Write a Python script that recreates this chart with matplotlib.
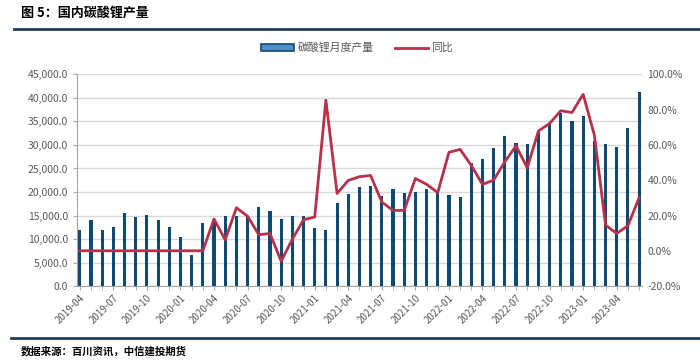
import numpy as np
import pandas as pd
import matplotlib
matplotlib.use('Agg')
import matplotlib.pyplot as plt
from matplotlib.ticker import FuncFormatter
from matplotlib.lines import Line2D
from matplotlib.patches import Patch

plt.rcParams['font.family'] = ['Noto Sans CJK SC', 'DejaVu Sans']

months = pd.period_range('2019-04', '2023-06', freq='M').strftime('%Y-%m').tolist()

output = [11900, 14000, 12000, 12600, 15500, 14600, 15200, 14100, 12600, 10400,
          6500, 13400, 13900, 14800, 14900, 14900, 16800, 16000, 14200, 15000,
          14800, 12400, 12000, 17700, 19600, 21100, 21200, 19100, 20600, 19700,
          19900, 20600, 19700, 19300, 18900, 26100, 27000, 29400, 31900, 30500,
          30100, 32800, 34400, 36700, 35000, 36100, 30900, 30100, 29500, 33500,
          41300]

yoy = [0, 0, 0, 0, 0, 0, 0, 0, 0, 0,
       0, 0, 18.0, 6.2, 24.4, 19.6, 9.1, 9.8, -5.9, 6.5,
       17.6, 19.1, 85.4, 32.5, 39.9, 42.0, 42.7, 27.6, 22.9, 22.9,
       41.0, 37.7, 33.0, 55.8, 57.5, 48.4, 37.6, 40.1, 50.5, 59.5,
       47.0, 67.9, 72.2, 79.4, 78.4, 88.7, 65.6, 14.6, 9.8, 14.2,
       30.1]

bar_color = '#0d4a74'
line_color = '#b83049'
text_gray = '#595959'


def main():
    fig = plt.figure(figsize=(7.0, 3.63), dpi=100)
    ax = fig.add_axes([0.110, 0.212, 0.807, 0.583])
    x = np.arange(len(months))

    ax.bar(x, output, width=0.28, color=bar_color, zorder=2)
    ax.set_ylim(0, 45000)
    ax.set_yticks(np.arange(0, 45001, 5000))
    ax.yaxis.set_major_formatter(FuncFormatter(lambda v, p: f'{v:,.1f}'))
    ax.grid(axis='y', color='#d9d9d9', linewidth=1, zorder=0)
    ax.set_axisbelow(True)
    ax.set_xlim(-0.25, len(months) - 0.75)

    ax.set_xticks(x[::3])
    ax.set_xticklabels(months[::3], rotation=45, ha='right', rotation_mode='anchor')
    ax.set_xticks(x, minor=True)
    ax.tick_params(axis='x', which='both', length=3, color='#a6a6a6', labelsize=7,
                   labelcolor=text_gray, pad=2)
    ax.tick_params(axis='y', length=3, color='#a6a6a6', labelsize=7.5, labelcolor=text_gray)
    for s in ['top', 'right']:
        ax.spines[s].set_visible(False)
    ax.spines['left'].set_color('#a6a6a6')
    ax.spines['bottom'].set_color('#a6a6a6')

    ax2 = ax.twinx()
    ax2.plot(x, yoy, color=line_color, linewidth=2, zorder=3)
    ax2.set_ylim(-20, 100)
    ax2.set_yticks(np.arange(-20, 101, 20))
    ax2.yaxis.set_major_formatter(FuncFormatter(lambda v, p: f'{v:.1f}%'))
    ax2.tick_params(axis='y', length=0, labelsize=7.5, labelcolor=text_gray, pad=4)
    for s in ax2.spines.values():
        s.set_visible(False)

    handles = [Patch(facecolor='#4f8fc6', edgecolor=bar_color, linewidth=1.2),
               Line2D([0], [0], color=line_color, linewidth=2)]
    fig.legend(handles, ['碳酸锂月度产量', '同比'], loc='center', bbox_to_anchor=(0.51, 0.868),
               ncol=2, frameon=False, fontsize=7.8, labelcolor=text_gray,
               handlelength=3.0, handleheight=0.6, columnspacing=2.0, handletextpad=0.3)

    fig.text(0.03, 0.963, '图 5：国内碳酸锂产量', fontsize=9.4, fontweight='bold',
             va='center', ha='left', color='black')
    fig.add_artist(Line2D([0.02, 1.0], [0.92, 0.92], color='#1f3f5f', linewidth=2))
    fig.add_artist(Line2D([0.015, 1.0], [0.068, 0.068], color='#1f3f5f', linewidth=2))
    fig.text(0.03, 0.033, '数据来源：百川资讯，中信建投期货', fontsize=7.5, fontweight='bold',
             va='center', ha='left', color='black')

    fig.savefig('out.png', dpi=100)


if __name__ == '__main__':
    main()
